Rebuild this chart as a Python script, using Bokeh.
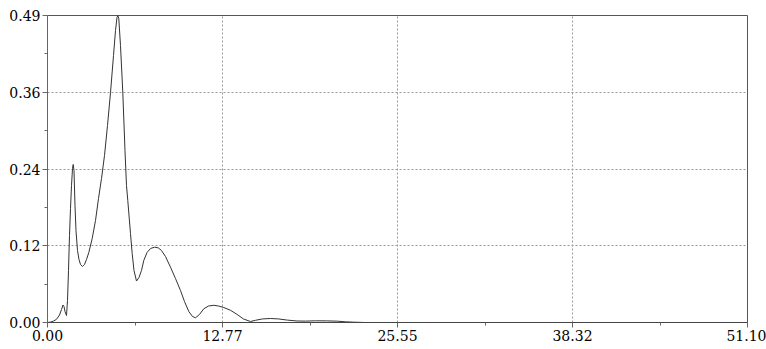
from bokeh.plotting import figure
from bokeh.models import FixedTicker, Range1d
from bokeh.embed import file_html
from bokeh.resources import INLINE

# Data
xs = [0.000, 0.219, 0.438, 0.657, 0.876, 1.022, 1.131, 1.204, 1.277, 1.387,
      1.460, 1.533, 1.606, 1.679, 1.752, 1.825, 1.876, 1.934, 2.007, 2.080,
      2.190, 2.299, 2.409, 2.555, 2.701, 2.847, 3.015, 3.263, 3.504, 3.723,
      3.942, 4.161, 4.380, 4.599, 4.818, 4.964, 5.073, 5.131, 5.204, 5.328,
      5.496, 5.657, 5.766, 5.861, 6.058, 6.182, 6.314, 6.496, 6.679, 6.861,
      7.029, 7.263, 7.518, 7.810, 8.080, 8.321, 8.613, 8.978, 9.343, 9.708,
      10.000, 10.314, 10.584, 10.803, 11.095, 11.409, 11.752, 12.139, 12.482,
      12.869, 13.358, 13.847, 14.307, 14.818, 15.182, 15.693, 16.277, 16.861,
      17.518, 18.226, 18.832, 19.562, 20.365, 21.168, 21.752, 22.336, 23.212,
      51.1]
ys = [0.0, 0.00064, 0.00223, 0.00511, 0.01197, 0.02075, 0.02793, 0.02554,
      0.01756, 0.01117, 0.03512, 0.0830, 0.1389, 0.1820, 0.2187, 0.2458, 0.2522,
      0.2426, 0.1868, 0.1468, 0.1149, 0.1006, 0.0926, 0.0894, 0.0926, 0.1006,
      0.1117, 0.1341, 0.1628, 0.1979, 0.2298, 0.2666, 0.3144, 0.3671, 0.4262,
      0.4661, 0.4868, 0.4900, 0.4852, 0.4421, 0.3676, 0.2745, 0.2187, 0.1947,
      0.1421, 0.1101, 0.0830, 0.0662, 0.0718, 0.0830, 0.0990, 0.1117, 0.1181,
      0.1202, 0.1192, 0.1149, 0.1053, 0.0883, 0.0702, 0.0511, 0.0335, 0.0176,
      0.0096, 0.0075, 0.0128, 0.0219, 0.0263, 0.0275, 0.0263, 0.0239, 0.0195,
      0.0128, 0.0056, 0.0016, 0.0035, 0.0057, 0.0064, 0.0057, 0.0038, 0.0024,
      0.0022, 0.0027, 0.0026, 0.0021, 0.0011, 0.0005, 0.0, 0.0]

x_ticks = [0.0, 12.775, 25.55, 38.325, 51.1]
x_tick_labels = ["0.00", "12.77", "25.55", "38.32", "51.10"]
x_minor = [6.3875, 19.1625, 31.9375, 44.7125]
y_ticks = [0.0, 0.1225, 0.245, 0.3675, 0.49]
y_tick_labels = ["0.00", "0.12", "0.24", "0.36", "0.49"]
y_minor = [0.06125, 0.18375, 0.30625, 0.42875]

p = figure(width=766, height=349, output_backend="svg", toolbar_location=None,
           x_range=Range1d(0, 51.1), y_range=Range1d(0, 0.49),
           min_border_left=47, min_border_right=19, min_border_top=15,
           min_border_bottom=27)
p.background_fill_color = "white"
p.border_fill_color = "white"
p.outline_line_color = "#555555"
p.outline_line_width = 1

p.line(xs, ys, line_color="#333333", line_width=1)

p.xaxis.ticker = FixedTicker(ticks=x_ticks, minor_ticks=x_minor)
p.yaxis.ticker = FixedTicker(ticks=y_ticks, minor_ticks=y_minor)
p.xaxis.major_label_overrides = dict(zip(x_ticks, x_tick_labels))
p.yaxis.major_label_overrides = dict(zip(y_ticks, y_tick_labels))

p.axis.major_label_text_font = "DejaVu Serif"
p.axis.major_label_text_font_size = "14px"
p.axis.major_label_text_color = "#000000"
p.axis.axis_line_color = "#666666"
p.axis.major_tick_line_color = "#666666"
p.axis.minor_tick_line_color = "#666666"
p.axis.major_tick_in = 0
p.axis.major_tick_out = 5
p.axis.minor_tick_in = 0
p.axis.minor_tick_out = 3
p.axis.major_label_standoff = 2
p.xaxis.axis_line_color = "#444444"

p.grid.grid_line_color = "#999999"
p.grid.grid_line_dash = "2 2"
p.grid.grid_line_width = 1

open("out.html", "w").write(file_html(p, INLINE))
